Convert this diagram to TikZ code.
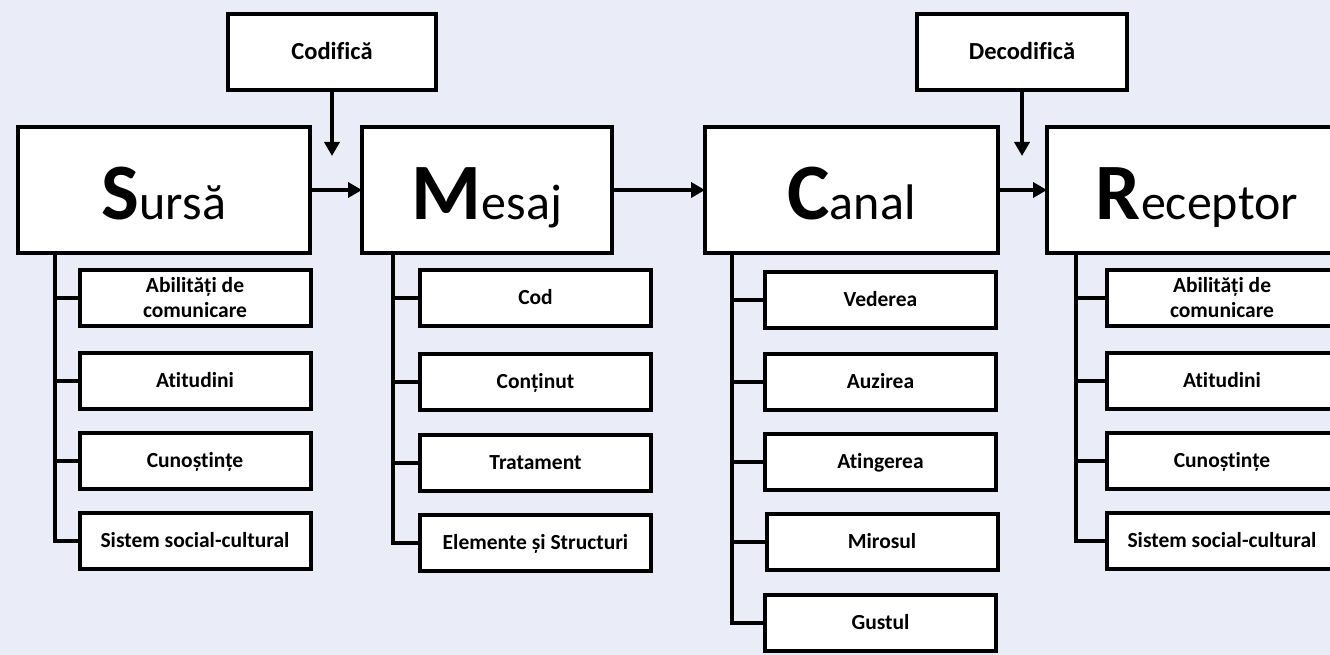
\documentclass[tikz,border=0pt]{standalone}
\usepackage{fontspec}
\setmainfont{Carlito}[Ligatures=NoCommon]
\usetikzlibrary{arrows.meta}
\definecolor{bg}{RGB}{234,237,247}
\newcommand{\bigletter}[1]{{\fontsize{80}{80}\selectfont\bfseries #1}}
\begin{document}
\begin{tikzpicture}[x=1pt,y=-1pt,
 box/.style={draw,line width=4pt,fill=white,inner sep=0pt,outer sep=0pt,align=center},
 mainbox/.style={box,minimum height=126pt,text height=60pt,text depth=2pt},
 subtwo/.style={box,minimum width=231pt,minimum height=56pt,font=\fontsize{21.5}{25}\selectfont\bfseries},
 subbox/.style={subtwo,text height=15pt,text depth=3pt},
 topbox/.style={box,minimum height=76pt,text height=18pt,text depth=2pt,font=\fontsize{24.5}{28}\selectfont\bfseries},
 conn/.style={line width=4pt,line join=miter},
 arr/.style={line width=4pt,-{Triangle[length=14pt,width=15pt]}},
 big/.style={font=\fontsize{50}{60}\selectfont},
]
\fill[bg] (0,0) rectangle (1330,655);
\clip (0,0) rectangle (1330,655);
% top boxes
\node[topbox,minimum width=208pt] (cod) at (332,52) {Codifică};
\node[topbox,minimum width=210pt] (dec) at (1022,52) {Decodifică};
% main boxes
\node[mainbox,big,minimum width=292pt] (sursa) at (164,190) {\bigletter{S}ursă};
\node[mainbox,big,minimum width=250pt] (mesaj) at (487,190) {\bigletter{M}esaj};
\node[mainbox,big,minimum width=293pt] (canal) at (851.5,190) {\bigletter{C}anal};
\node[mainbox,big,minimum width=300pt] (rec) at (1197,190) {\bigletter{R}eceptor};
% arrows
\coordinate (codend) at (332,156);
\coordinate (decend) at (1022,156);
\draw[arr] (cod.south) -- (codend);
\draw[arr] (dec.south) -- (decend);
\draw[arr] (sursa.east) -- (mesaj.west);
\draw[arr] (mesaj.east) -- (canal.west);
\draw[arr] (canal.east) -- (rec.west);
% Sursa subs
\node[subtwo] (s1) at (195,298) {Abilități de\\comunicare};
\node[subbox] (s2) at (195,381) {Atitudini};
\node[subbox] (s3) at (195,461) {Cunoștințe};
\node[subbox] (s4) at (195,541) {Sistem social-cultural};
% Mesaj subs
\node[subbox] (m1) at (535.5,298) {Cod};
\node[subbox] (m2) at (535.5,382) {Conținut};
\node[subbox] (m3) at (535.5,463) {Tratament};
\node[subbox] (m4) at (535.5,543) {Elemente și Structuri};
% Canal subs
\node[subbox] (c1) at (880.5,300) {Vederea};
\node[subbox] (c2) at (880.5,382) {Auzirea};
\node[subbox] (c3) at (880.5,462) {Atingerea};
\node[subbox] (c4) at (882,542) {Mirosul};
\node[subbox] (c5) at (880.5,623) {Gustul};
% Receptor subs
\node[subtwo] (r1) at (1222,298) {Abilități de\\comunicare};
\node[subbox] (r2) at (1222,381) {Atitudini};
\node[subbox] (r3) at (1222,461) {Cunoștințe};
\node[subbox] (r4) at (1222,541) {Sistem social-cultural};
% trunks
\coordinate (ts) at ([xshift=37pt]sursa.south west);
\draw[conn] (ts) -- (ts |- s4.west) -- (s4.west);
\foreach \n in {s1,s2,s3} \draw[conn] (ts |- \n.west) -- (\n.west);
\coordinate (tm) at ([xshift=31pt]mesaj.south west);
\draw[conn] (tm) -- (tm |- m4.west) -- (m4.west);
\foreach \n in {m1,m2,m3} \draw[conn] (tm |- \n.west) -- (\n.west);
\coordinate (tc) at ([xshift=27pt]canal.south west);
\draw[conn] (tc) -- (tc |- c5.west) -- (c5.west);
\foreach \n in {c1,c2,c3,c4} \draw[conn] (tc |- \n.west) -- (\n.west);
\coordinate (tr) at ([xshift=29pt]rec.south west);
\draw[conn] (tr) -- (tr |- r4.west) -- (r4.west);
\foreach \n in {r1,r2,r3} \draw[conn] (tr |- \n.west) -- (\n.west);
\end{tikzpicture}
\end{document}
